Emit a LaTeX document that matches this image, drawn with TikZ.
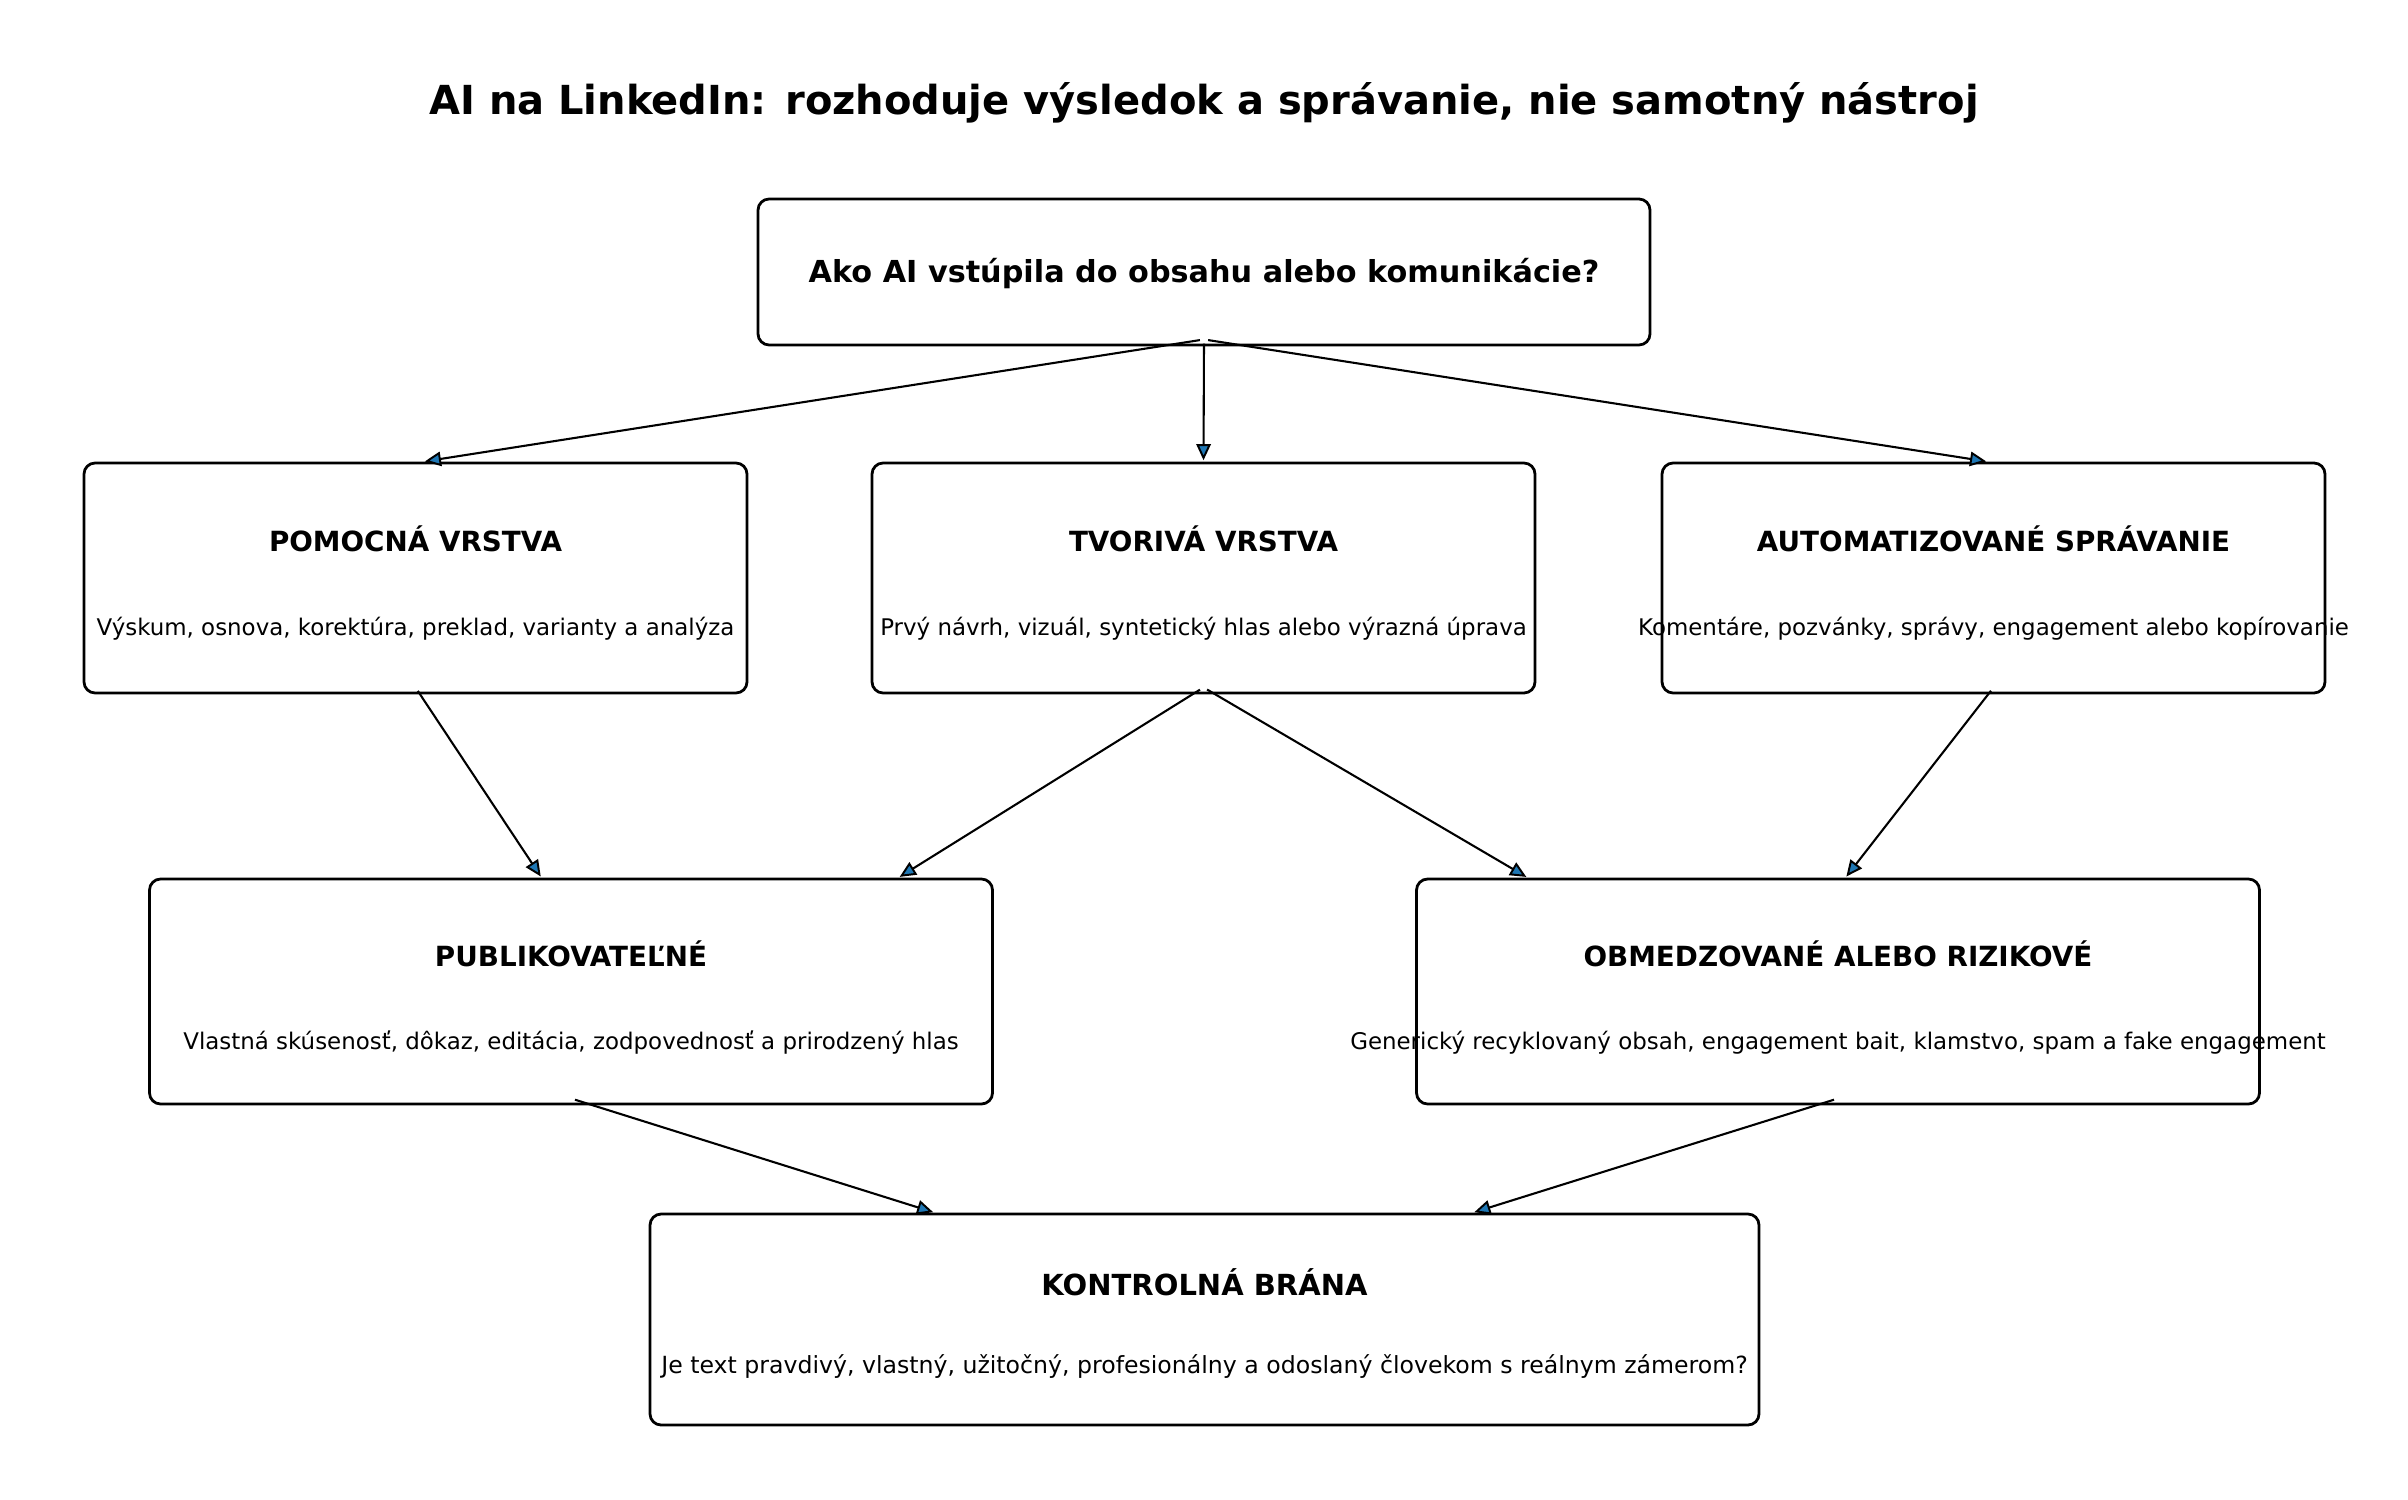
\documentclass[tikz,border=0pt]{standalone}
\usepackage{fontspec}
\setmainfont{DejaVu Sans}
\usetikzlibrary{arrows.meta}
\definecolor{tipblue}{RGB}{31,119,180}

\begin{document}
\begin{tikzpicture}[x=0.36pt, y=-0.36pt,
    box/.style={draw, line width=1pt, rounded corners=4pt, inner sep=0pt},
    head/.style={anchor=base, font=\fontsize{10}{12}\selectfont\bfseries},
    info/.style={anchor=base, font=\fontsize{8.25}{10}\selectfont},
    conn/.style={line width=0.75pt, shorten <=1.5pt, shorten >=0.5pt,
        -{Triangle[length=5.8pt, width=5.2pt, line width=0.7pt, fill=tipblue]}}]
    \useasboundingbox (0,0) rectangle (2408,1500);

    % Draw the title
    \node[anchor=base, font=\fontsize{14.4}{17}\selectfont\bfseries] (title) at (1204,115)
        {AI na LinkedIn: rozhoduje výsledok a správanie, nie samotný nástroj};

    % Draw the question box
    \node[box, minimum width=892*0.36pt, minimum height=146*0.36pt] (ask) at (1204,272) {};
    \node[head, font=\fontsize{10.9}{13}\selectfont\bfseries] (askT) at (1204,283)
        {Ako AI vstúpila do obsahu alebo komunikácie?};

    % Draw the three layers
    \node[box, minimum width=663*0.36pt, minimum height=230*0.36pt] (help) at (415.5,578) {};
    \node[head] (helpT) at (415.5,551) {POMOCNÁ VRSTVA};
    \node[info] (helpS) at (415.5,635) {Výskum, osnova, korektúra, preklad, varianty a analýza};

    \node[box, minimum width=663*0.36pt, minimum height=230*0.36pt] (make) at (1203.5,578) {};
    \node[head] (makeT) at (1203.5,551) {TVORIVÁ VRSTVA};
    \node[info] (makeS) at (1203.5,635) {Prvý návrh, vizuál, syntetický hlas alebo výrazná úprava};

    \node[box, minimum width=663*0.36pt, minimum height=230*0.36pt] (auto) at (1993.5,578) {};
    \node[head] (autoT) at (1993.5,551) {AUTOMATIZOVANÉ SPRÁVANIE};
    \node[info] (autoS) at (1993.5,635) {Komentáre, pozvánky, správy, engagement alebo kopírovanie};

    % Draw the two outcomes
    \node[box, minimum width=843*0.36pt, minimum height=225*0.36pt] (pub) at (571,991.5) {};
    \node[head] (pubT) at (571,966) {PUBLIKOVATEĽNÉ};
    \node[info] (pubS) at (571,1049) {Vlastná skúsenosť, dôkaz, editácia, zodpovednosť a prirodzený hlas};

    \node[box, minimum width=843*0.36pt, minimum height=225*0.36pt] (risk) at (1838,991.5) {};
    \node[head] (riskT) at (1838,966) {OBMEDZOVANÉ ALEBO RIZIKOVÉ};
    \node[info] (riskS) at (1838,1049) {Generický recyklovaný obsah, engagement bait, klamstvo, spam a fake engagement};

    % Draw the gate
    \node[box, minimum width=1109*0.36pt, minimum height=211*0.36pt] (gate) at (1204.5,1319.5) {};
    \node[head, font=\fontsize{10.45}{12}\selectfont\bfseries] (gateT) at (1204.5,1295) {KONTROLNÁ BRÁNA};
    \node[info, font=\fontsize{8.5}{10}\selectfont] (gateS) at (1204.5,1373)
        {Je text pravdivý, vlastný, užitočný, profesionálny a odoslaný človekom s reálnym zámerom?};

    % Draw the connections
    \draw[conn] ([yshift=2.5pt]ask.south) -- ([xshift=8*0.36pt]help.north);
    \draw[conn] ([yshift=2.5pt]ask.south) -- (make.north);
    \draw[conn] ([yshift=2.5pt]ask.south) -- ([xshift=-6*0.36pt]auto.north);
    \draw[conn] ([yshift=2.5pt]help.south) -- ([xshift=-29.5*0.36pt]pub.north);
    \draw[conn] ([yshift=2.5pt]make.south) -- ([xshift=327.5*0.36pt]pub.north);
    \draw[conn] ([yshift=2.5pt]make.south) -- ([xshift=-310.5*0.36pt]risk.north);
    \draw[conn] ([yshift=2.5pt]auto.south) -- ([xshift=7.5*0.36pt]risk.north);
    \draw[conn] ([yshift=2.5pt]pub.south) -- ([xshift=-270*0.36pt]gate.north);
    \draw[conn] ([yshift=2.5pt]risk.south) -- ([xshift=268.5*0.36pt]gate.north);

\end{tikzpicture}
\end{document}
